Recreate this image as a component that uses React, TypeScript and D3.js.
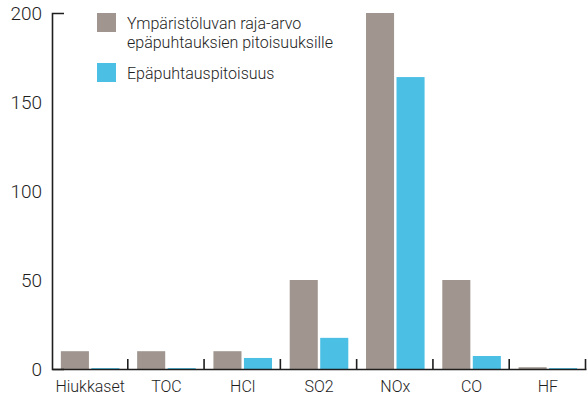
import { axisBottom, axisLeft, scaleBand, scaleLinear, select } from 'd3';
import React, { useEffect, useRef } from 'react';

const WIDTH = 587;
const HEIGHT = 401;
const MARGIN_TOP = 13;
const MARGIN_RIGHT = 1;
const MARGIN_BOTTOM = 32;
const MARGIN_LEFT = 52;

const categories = ['Hiukkaset', 'TOC', 'HCl', 'SO2', 'NOx', 'CO', 'HF'];
const limitValues = [10, 10, 10, 50, 200, 50, 1];
const measuredValues = [0.5, 0.5, 6.2, 17.5, 164, 7.3, 0.5];
const yTicks = [0, 50, 100, 150, 200];
const seriesNames = ['Ympäristöluvan raja-arvo\nepäpuhtauksien pitoisuuksille', 'Epäpuhtauspitoisuus'];
const seriesKeys = ['limit', 'measured'];

const GRAY = '#a0968f';
const BLUE = '#4bbfe4';
const INK = '#1e1e1e';
const FONT = 'Roboto, sans-serif';

const App = (): JSX.Element => {
  const ref = useRef<SVGSVGElement>(null);

  useEffect(() => {
    if (ref.current === null) return;
    document.body.style.margin = '0';
    ref.current.replaceChildren();

    const data = categories.map((c, i) => ({
      label: c,
      limit: limitValues[i],
      measured: measuredValues[i],
    }));

    const x = scaleBand().domain(categories).range([MARGIN_LEFT, WIDTH - MARGIN_RIGHT]).padding(0);
    const x1 = scaleBand().domain(seriesKeys).range([0, x.bandwidth()]).paddingInner(0.08).paddingOuter(0.29);
    const y = scaleLinear().domain([0, 200]).range([HEIGHT - MARGIN_BOTTOM, MARGIN_TOP]);
    const colors: Record<string, string> = { limit: GRAY, measured: BLUE };

    const svg = select(ref.current)
      .attr('width', WIDTH)
      .attr('height', HEIGHT)
      .attr('viewBox', [0, 0, WIDTH, HEIGHT])
      .style('display', 'block')
      .style('font-family', FONT);

    // Bars, grouped per category
    svg
      .append('g')
      .selectAll('g')
      .data(data)
      .join('g')
      .attr('transform', (d) => `translate(${x(d.label)},0)`)
      .selectAll('rect')
      .data((d) => seriesKeys.map((k) => ({ key: k, value: (d as any)[k] as number })))
      .join('rect')
      .attr('x', (d) => x1(d.key) ?? 0)
      .attr('width', x1.bandwidth())
      .attr('y', (d) => y(d.value))
      .attr('height', (d) => y(0) - y(d.value))
      .attr('fill', (d) => colors[d.key]);

    // x-axis: labels plus boundary ticks pointing up
    svg
      .append('g')
      .attr('transform', `translate(0, ${HEIGHT - MARGIN_BOTTOM})`)
      .call(axisBottom(x).tickSize(0).tickPadding(12))
      .call((g) => g.select('.domain').attr('stroke', INK).attr('stroke-width', 1.6))
      .call((g) => g.selectAll('.tick text').attr('font-size', 16).attr('fill', INK).attr('font-family', FONT).attr('font-weight', 300));

    const boundaries = [...categories.map((c) => x(c) as number), x.range()[1]];
    svg
      .append('g')
      .attr('stroke', INK)
      .attr('stroke-width', 1.6)
      .selectAll('line')
      .data(boundaries.slice(1))
      .join('line')
      .attr('x1', (d) => d - 0.5)
      .attr('x2', (d) => d - 0.5)
      .attr('y1', y(0))
      .attr('y2', y(0) - 10);

    // y-axis: only domain with an inward tick at the top
    svg
      .append('g')
      .attr('transform', `translate(${MARGIN_LEFT}, 0)`)
      .call(axisLeft(y).tickValues(yTicks).tickSize(0).tickSizeOuter(-12).tickPadding(10))
      .call((g) => g.select('.domain').attr('stroke', INK).attr('stroke-width', 1.6))
      .call((g) => g.selectAll('.tick text').attr('font-size', 19).attr('fill', INK).attr('font-family', FONT).attr('font-weight', 300));

    // Legend
    const legend = svg
      .append('g')
      .selectAll('g')
      .data(seriesKeys)
      .join('g')
      .attr('transform', (_, i) => `translate(97, ${i === 0 ? 13 : 63})`);
    legend
      .append('rect')
      .attr('width', 19)
      .attr('height', 19)
      .attr('fill', (d) => colors[d]);
    legend
      .append('text')
      .attr('x', 30)
      .attr('font-size', 16)
      .attr('font-weight', 300)
      .attr('fill', INK)
      .selectAll('tspan')
      .data((_, i) => seriesNames[i].split('\n'))
      .join('tspan')
      .attr('x', 30)
      .attr('y', (_, j) => 16 + j * 18.5)
      .text((d) => d);
  }, [ref]);

  return <svg ref={ref} />;
};

export default App;
